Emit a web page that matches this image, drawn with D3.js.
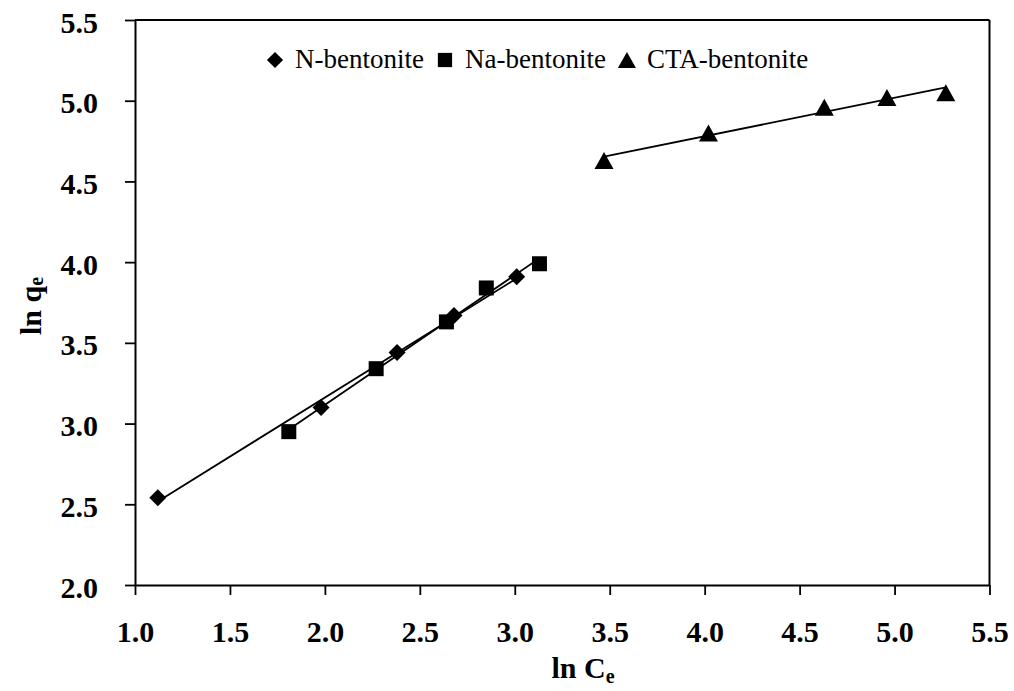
<!DOCTYPE html>
<html>
<head>
<meta charset="utf-8">
<script src="https://cdn.jsdelivr.net/npm/d3@7"></script>
<style>
  html, body { margin: 0; padding: 0; background: #fff; }
  svg { display: block; }
</style>
</head>
<body>
<svg id="chart" width="1014" height="691"></svg>
<script>
// Freundlich isotherm data: ln Ce vs ln qe for three sorbents
const nBentoniteX  = [1.12, 1.98, 2.38, 2.68, 3.01];
const nBentoniteY  = [2.54, 3.10, 3.44, 3.67, 3.91];
const naBentoniteX = [1.81, 2.27, 2.64, 2.85, 3.13];
const naBentoniteY = [2.95, 3.34, 3.63, 3.84, 3.99];
const ctaBentoniteX = [3.47, 4.02, 4.63, 4.96, 5.27];
const ctaBentoniteY = [4.63, 4.80, 4.96, 5.02, 5.05];

const seriesNames = ["N-bentonite", "Na-bentonite", "CTA-bentonite"];
const xTicks = [1.0, 1.5, 2.0, 2.5, 3.0, 3.5, 4.0, 4.5, 5.0, 5.5];
const yTicks = [2.0, 2.5, 3.0, 3.5, 4.0, 4.5, 5.0, 5.5];

const series = [
  { name: seriesNames[0], xs: nBentoniteX,  ys: nBentoniteY,  shape: "diamond" },
  { name: seriesNames[1], xs: naBentoniteX, ys: naBentoniteY, shape: "square" },
  { name: seriesNames[2], xs: ctaBentoniteX, ys: ctaBentoniteY, shape: "triangle" }
];

const FONT = "'Liberation Serif', 'Times New Roman', Times, serif";
const svg = d3.select("#chart");
const plotLeft = 135, plotRight = 989.5, plotTop = 20, plotBottom = 585;

const x = d3.scaleLinear().domain([1.0, 5.5]).range([plotLeft, plotRight]);
const y = d3.scaleLinear().domain([2.0, 5.5]).range([plotBottom, plotTop]);

// marker shapes
function markerPath(shape, k) {
  const p = d3.path();
  if (shape === "diamond") {
    const r = 8.5 * k;
    p.moveTo(0, -r); p.lineTo(r, 0); p.lineTo(0, r); p.lineTo(-r, 0); p.closePath();
  } else if (shape === "square") {
    const s = 7.5 * k;
    p.rect(-s, -s, 2 * s, 2 * s);
  } else {
    const w = 9.5 * k, h = 8.5 * k;
    p.moveTo(0, -h); p.lineTo(w, h); p.lineTo(-w, h); p.closePath();
  }
  return p.toString();
}

// least-squares trend line
function fit(xs, ys) {
  const mx = d3.mean(xs), my = d3.mean(ys);
  let sxy = 0, sxx = 0;
  xs.forEach((v, i) => { sxy += (v - mx) * (ys[i] - my); sxx += (v - mx) * (v - mx); });
  const b = sxy / sxx, a = my - b * mx;
  return v => a + b * v;
}

// axes
const xAxis = d3.axisBottom(x).tickValues(xTicks).tickFormat(d3.format(".1f"))
  .tickSize(10).tickSizeOuter(0).tickPadding(26);
const yAxis = d3.axisLeft(y).tickValues(yTicks).tickFormat(d3.format(".1f"))
  .tickSize(10).tickSizeOuter(0).tickPadding(27);

const gx = svg.append("g").attr("transform", `translate(0,${plotBottom})`).call(xAxis);
const gy = svg.append("g").attr("transform", `translate(${plotLeft},0)`).call(yAxis);

[gx, gy].forEach(g => {
  g.attr("font-family", FONT);
  g.select(".domain").attr("stroke", "#000").attr("stroke-width", 2);
  g.selectAll(".tick line").attr("stroke", "#000").attr("stroke-width", 1.8);
  g.selectAll(".tick text").attr("font-size", 30).attr("font-weight", "bold")
    .attr("font-family", FONT).attr("fill", "#000");
});
gy.selectAll(".tick text").attr("dy", "0.4em");

// frame top and right
svg.append("line").attr("x1", plotLeft).attr("x2", plotRight).attr("y1", plotTop).attr("y2", plotTop)
  .attr("stroke", "#000").attr("stroke-width", 2);
svg.append("line").attr("x1", plotRight).attr("x2", plotRight).attr("y1", plotTop).attr("y2", plotBottom)
  .attr("stroke", "#000").attr("stroke-width", 2);

// trend lines and markers
series.forEach(s => {
  const f = fit(s.xs, s.ys);
  const x0 = d3.min(s.xs), x1 = d3.max(s.xs);
  svg.append("line")
    .attr("x1", x(x0)).attr("y1", y(f(x0)))
    .attr("x2", x(x1)).attr("y2", y(f(x1)))
    .attr("stroke", "#000").attr("stroke-width", 1.8);
});
series.forEach(s => {
  svg.append("g").selectAll("path")
    .data(s.xs.map((v, i) => [v, s.ys[i]]))
    .join("path")
    .attr("d", markerPath(s.shape, 1))
    .attr("transform", d => `translate(${x(d[0])},${y(d[1])})`)
    .attr("fill", "#000");
});

// legend
const legend = svg.append("g");
let cx = 275;
const legY = 60;
series.forEach(s => {
  legend.append("path").attr("d", markerPath(s.shape, 0.95))
    .attr("transform", `translate(${cx},${legY})`).attr("fill", "#000");
  const t = legend.append("text").attr("x", cx + 20).attr("y", legY + 8)
    .attr("font-family", FONT).attr("font-size", 27).attr("fill", "#000").text(s.name);
  cx += 20 + t.node().getComputedTextLength() + 21;
});

// axis titles
const xt = svg.append("text").attr("x", 583).attr("y", 678)
  .attr("text-anchor", "middle").attr("font-family", FONT)
  .attr("font-size", 30).attr("font-weight", "bold").attr("fill", "#000");
xt.append("tspan").text("ln C");
xt.append("tspan").attr("font-size", 20).attr("dy", 5).text("e");

const yt = svg.append("text").attr("transform", "translate(41,306) rotate(-90)")
  .attr("text-anchor", "middle").attr("font-family", FONT)
  .attr("font-size", 30).attr("font-weight", "bold").attr("fill", "#000");
yt.append("tspan").text("ln q");
yt.append("tspan").attr("font-size", 20).attr("dy", 2).text("e");
</script>
</body>
</html>
